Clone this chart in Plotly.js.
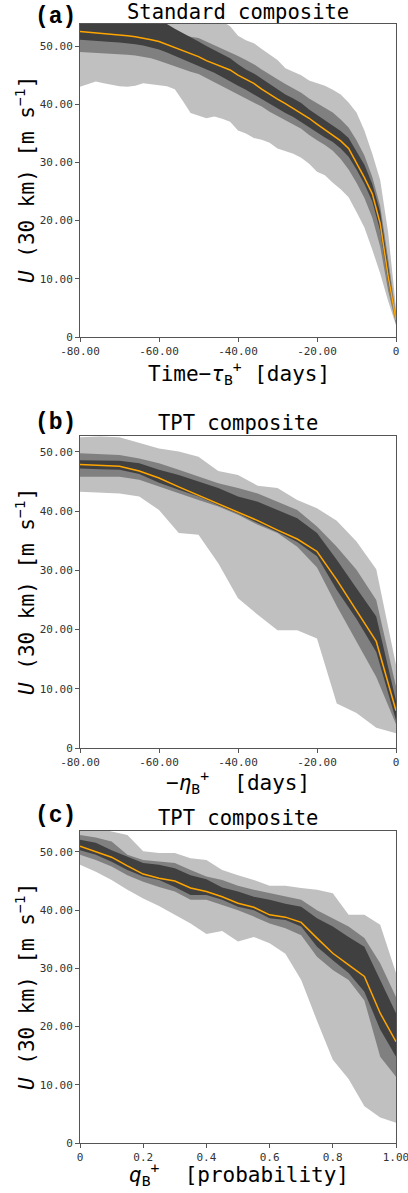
<!DOCTYPE html>
<html>
<head>
<meta charset="utf-8">
<script src="https://cdn.plot.ly/plotly-3.0.1.min.js"></script>
<style>
  html, body { margin: 0; padding: 0; background: #fff; }
  #chart { width: 408px; height: 1193px; }
</style>
</head>
<body>
<div id="chart"></div>
<script>
// ---------- Panel (a): Standard composite ----------
const aX = [-80,-78,-76,-74,-72,-70,-68,-66,-64,-62,-60,-58,-56,-54,-52,-50,-48,-46,-44,-42,-40,-38,-36,-34,-32,-30,-28,-26,-24,-22,-20,-18,-16,-14,-12,-10,-8,-6,-4,-2,0];
const aMed = [52.5,52.4,52.3,52.2,52.1,51.9,51.8,51.6,51.4,51.1,50.8,50.3,49.8,49.2,48.7,48.2,47.5,47.0,46.4,45.9,45.0,44.3,43.6,42.6,41.7,40.9,40.1,39.3,38.5,37.6,36.6,35.6,34.7,33.7,32.4,30.0,27.4,24.6,19.5,10.5,2.9];
const aDarkHi = [54.5,54.5,54.4,54.4,54.4,54.3,54.3,54.2,54.2,54.1,54.0,53.8,53.0,52.3,51.6,50.8,50.0,49.3,48.6,47.9,46.9,46.0,45.3,44.4,43.4,42.5,41.7,41.0,40.2,39.1,38.2,37.3,36.4,35.4,34.2,32.0,29.6,26.3,21.5,12.2,3.3];
const aDarkLo = [51.1,51.0,50.9,50.8,50.7,50.6,50.5,50.3,50.1,49.8,49.4,48.9,48.3,47.7,47.1,46.6,46.0,45.4,44.7,44.0,43.2,42.5,41.8,41.0,40.1,39.3,38.5,37.8,37.0,36.0,35.2,34.3,33.5,32.4,31.0,28.8,26.3,23.3,18.2,9.5,2.6];
const aMidHi = [55.8,55.7,55.6,55.5,55.3,55.0,54.7,54.3,53.9,53.6,53.2,52.8,52.4,52.0,51.6,51.4,50.8,50.2,49.6,49.0,48.3,47.6,46.9,46.0,45.1,44.3,43.5,42.8,42.0,41.0,40.2,39.4,38.6,37.4,36.0,33.8,31.2,27.5,22.5,13.5,3.8];
const aMidLo = [49.0,48.9,48.8,48.8,48.7,48.6,48.5,48.4,48.2,47.9,47.5,47.1,46.6,46.1,45.6,45.2,44.4,43.7,43.0,42.3,41.6,41.0,40.3,39.6,38.7,37.9,37.2,36.5,35.8,34.7,33.8,33.0,32.0,30.6,28.8,26.5,23.9,20.5,15.5,8.0,2.2];
const aLightHi = [58.0,58.0,58.0,58.0,58.0,58.0,58.0,58.0,58.0,58.0,58.0,58.0,57.8,57.4,57.0,56.4,55.8,55.0,54.3,53.4,51.8,51.0,50.5,49.5,48.5,47.6,46.2,45.6,45.0,44.1,43.7,43.2,42.5,41.7,40.3,38.6,35.5,31.5,27.0,18.0,5.0];
const aLightLo = [43.0,43.5,43.9,43.6,43.3,43.1,43.0,43.2,43.6,43.5,43.3,43.1,42.6,40.6,38.5,38.0,37.6,37.9,37.5,37.0,35.5,35.0,34.2,33.9,33.4,32.4,31.9,31.5,30.8,29.8,28.4,27.8,26.5,25.4,24.0,21.5,18.8,15.0,10.9,6.2,2.0];

// ---------- Panel (b): TPT composite vs -eta ----------
const bX = [-80,-75,-70,-65,-60,-55,-50,-45,-40,-35,-30,-25,-20,-15,-10,-5,0];
const bMed = [47.9,47.8,47.6,46.8,45.6,44.1,42.7,41.3,39.9,38.4,36.8,35.3,33.2,28.4,23.2,18.0,6.3];
const bDarkHi = [48.6,48.6,48.5,48.1,47.0,46.1,45.0,43.9,42.5,41.6,40.2,38.8,36.3,31.8,27.0,22.2,8.0];
const bDarkLo = [47.2,47.1,47.0,46.3,44.8,43.6,42.5,41.0,39.6,38.0,36.5,34.8,32.4,26.7,21.8,16.2,4.7];
const bMidHi = [49.8,49.7,49.5,48.9,48.1,47.0,45.8,44.7,43.9,43.0,41.6,40.2,37.4,34.0,30.1,25.0,10.4];
const bMidLo = [45.8,45.8,45.8,45.3,44.1,43.0,41.9,40.8,39.4,37.7,36.3,34.0,30.5,24.0,18.0,12.0,4.0];
const bLightHi = [52.5,52.6,52.5,51.5,50.6,50.1,49.2,46.8,46.1,44.3,43.9,41.9,40.5,38.4,34.9,30.2,14.0];
const bLightLo = [43.3,43.1,43.0,42.5,40.2,36.3,36.0,31.2,25.3,22.5,19.9,19.9,18.5,7.5,5.9,3.4,2.5];

// ---------- Panel (c): TPT composite vs q ----------
const cX = [0,0.05,0.1,0.15,0.2,0.25,0.3,0.35,0.4,0.45,0.5,0.55,0.6,0.65,0.7,0.75,0.8,0.85,0.9,0.95,1.0];
const cMed = [51.0,50.1,49.1,47.6,46.2,45.5,45.0,43.8,43.2,42.3,41.2,40.5,39.2,38.8,37.9,35.2,32.6,30.6,28.6,22.3,17.4];
const cDarkHi = [52.1,51.6,50.3,49.2,48.1,47.8,47.2,46.0,45.3,43.9,43.2,42.3,41.8,41.1,40.6,38.6,37.2,35.4,33.7,28.0,22.3];
const cDarkLo = [50.3,49.5,48.3,46.9,45.8,45.2,44.0,42.6,42.6,41.8,40.6,40.0,38.6,38.3,37.2,33.7,31.4,29.2,26.0,19.5,14.8];
const cMidHi = [52.9,52.5,51.8,49.5,48.6,48.3,48.1,46.9,45.8,45.2,44.2,43.5,42.9,42.3,41.8,40.0,38.6,37.2,35.2,30.9,25.1];
const cMidLo = [49.5,48.6,47.5,46.0,44.9,44.0,43.2,41.8,41.8,40.9,40.0,38.9,37.7,36.9,35.7,32.0,29.7,28.0,24.5,14.8,11.4];
const cLightHi = [54.5,54.2,53.5,52.9,50.1,49.8,49.8,48.9,48.6,46.9,46.0,45.2,44.2,44.2,43.8,43.5,42.9,39.2,39.2,37.5,29.2];
const cLightLo = [47.8,46.6,45.2,43.5,42.0,40.7,39.2,37.7,35.9,36.4,34.6,35.4,34.3,32.5,28.0,21.0,14.3,11.0,6.3,4.4,3.5];

const COL_LIGHT = '#c0c0c0', COL_MID = '#808080', COL_DARK = '#404040', COL_LINE = '#ffa500';

function band(x, hi, lo, color, xa, ya) {
  return {
    x: x.concat(x.slice().reverse()),
    y: hi.concat(lo.slice().reverse()),
    fill: 'toself', fillcolor: color, mode: 'lines', line: {width: 0, color: color},
    hoverinfo: 'skip', showlegend: false, xaxis: xa, yaxis: ya
  };
}
function panel(x, med, dh, dl, mh, ml, lh, ll, xa, ya) {
  return [
    band(x, lh, ll, COL_LIGHT, xa, ya),
    band(x, mh, ml, COL_MID, xa, ya),
    band(x, dh, dl, COL_DARK, xa, ya),
    {x: x, y: med, mode: 'lines', line: {color: COL_LINE, width: 1.5}, showlegend: false, xaxis: xa, yaxis: ya}
  ];
}

const data = [].concat(
  panel(aX, aMed, aDarkHi, aDarkLo, aMidHi, aMidLo, aLightHi, aLightLo, 'x', 'y'),
  panel(bX, bMed, bDarkHi, bDarkLo, bMidHi, bMidLo, bLightHi, bLightLo, 'x2', 'y2'),
  panel(cX, cMed, cDarkHi, cDarkLo, cMidHi, cMidLo, cLightHi, cLightLo, 'x3', 'y3')
);

const tickFont = {family: 'DejaVu Sans Mono', size: 11, color: '#333'};
const yTickVals = [0,10,20,30,40,50];
const yTickText = ['0','10.00','20.00','30.00','40.00','50.00'];
const dayTickVals = [-80,-60,-40,-20,0];
const dayTickText = ['-80.00','-60.00','-40.00','-20.00','0'];
const qTickVals = [0,0.2,0.4,0.6,0.8,1.0];
const qTickText = ['0','0.2','0.4','0.6','0.8','1.00'];

function axisBase() {
  return {showgrid: false, zeroline: false, showline: true, mirror: true, linecolor: '#555', linewidth: 1,
          ticks: 'outside', ticklen: 4, tickcolor: '#555', tickfont: tickFont, fixedrange: true,
          ticklabeloverflow: 'allow'};
}
// plot geometry (paper): total plot height 1119 px, top margin 24
const H = 1119, T0 = 1143;
function py(px) { return (T0 - px) / H; }
function px(p) { return (p - 80) / 316; }

const layout = {
  width: 408, height: 1193,
  margin: {l: 80, r: 12, t: 24, b: 50},
  paper_bgcolor: '#fff', plot_bgcolor: '#fff',
  showlegend: false,
  xaxis: Object.assign(axisBase(), {domain: [0,1], anchor: 'y', range: [-80, 0], tickvals: dayTickVals, ticktext: dayTickText}),
  yaxis: Object.assign(axisBase(), {domain: [py(337), py(24)], anchor: 'x', range: [0, 53.8], tickvals: yTickVals, ticktext: yTickText}),
  xaxis2: Object.assign(axisBase(), {domain: [0,1], anchor: 'y2', range: [-80, 0], tickvals: dayTickVals, ticktext: dayTickText}),
  yaxis2: Object.assign(axisBase(), {domain: [py(748), py(436)], anchor: 'x2', range: [0, 52.7], tickvals: yTickVals, ticktext: yTickText}),
  xaxis3: Object.assign(axisBase(), {domain: [0,1], anchor: 'y3', range: [0, 1], tickvals: qTickVals, ticktext: qTickText}),
  yaxis3: Object.assign(axisBase(), {domain: [py(1143), py(831)], anchor: 'x3', range: [0, 53.6], tickvals: yTickVals, ticktext: yTickText}),
  annotations: []
};

const monoTitle = {family: 'DejaVu Sans Mono', size: 20.5, color: '#000'};
const labelFont = {family: 'Liberation Mono', size: 23, color: '#000'};
const axFont = {family: 'DejaVu Sans Mono', size: 21, color: '#000'};

function ann(text, xpx, ypx, font, extra) {
  return Object.assign({text: text, xref: 'paper', yref: 'paper', x: px(xpx), y: py(ypx),
    xanchor: 'center', yanchor: 'middle', showarrow: false, font: font}, extra || {});
}
const yTitle = '<i>U</i> (30 km) [m s<sup>−1</sup>]';
layout.annotations.push(
  ann('Standard composite', 238, 12, monoTitle),
  ann('<b>(a)</b>', 55, 17, labelFont),
  ann('Time−<i>τ</i><sub>B</sub><sup>+</sup> [days]', 239, 373, axFont),
  ann(yTitle, 25, 180, axFont, {textangle: -90}),

  ann('TPT composite', 238, 423, monoTitle),
  ann('<b>(b)</b>', 55, 423, labelFont),
  ann('−<i>η</i><sub>B</sub><sup>+</sup>  [days]', 238, 782, axFont),
  ann(yTitle, 25, 592, axFont, {textangle: -90}),

  ann('TPT composite', 238, 818, monoTitle),
  ann('<b>(c)</b>', 55, 816, labelFont),
  ann('<i>q</i><sub>B</sub><sup>+</sup>  [probability]', 239, 1174, axFont),
  ann(yTitle, 25, 987, axFont, {textangle: -90})
);

Plotly.newPlot('chart', data, layout, {staticPlot: true, displayModeBar: false});
</script>
</body>
</html>
